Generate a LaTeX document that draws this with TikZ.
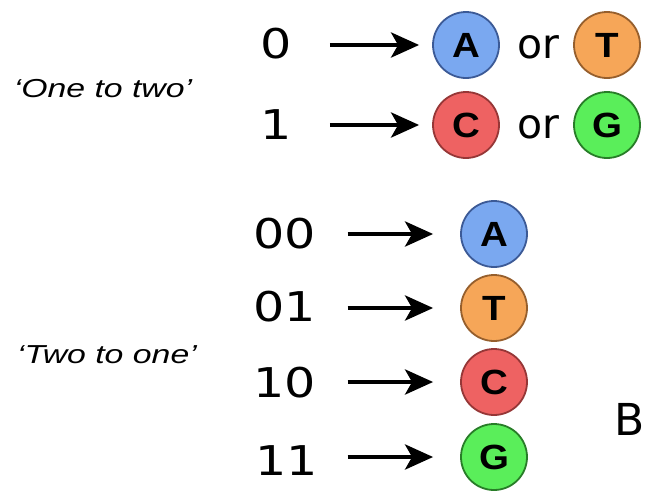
\documentclass[tikz,border=0pt]{standalone}
\usepackage{fontspec}
\usepackage{graphicx}
\setmainfont{Liberation Sans}
\newfontfamily\digitfont{DejaVu Sans}
\usetikzlibrary{arrows.meta}
\definecolor{blueF}{RGB}{122,168,240}
\definecolor{blueD}{RGB}{60,90,150}
\definecolor{orangeF}{RGB}{246,166,88}
\definecolor{orangeD}{RGB}{150,95,45}
\definecolor{redF}{RGB}{238,98,98}
\definecolor{redD}{RGB}{150,55,55}
\definecolor{greenF}{RGB}{90,238,90}
\definecolor{greenD}{RGB}{40,125,40}
\newcommand{\widetext}[2]{\scalebox{#1}[1]{#2}}
\tikzset{
  digit/.style={inner sep=0pt, anchor=base, font=\digitfont\fontsize{41}{48}\selectfont},
  ortext/.style={inner sep=0pt, anchor=base, font=\digitfont\fontsize{41}{48}\selectfont},
  label/.style={inner sep=0pt, anchor=base, font=\fontsize{26}{30}\selectfont\itshape},
  base/.style={circle, inner sep=0pt, minimum size=66pt, line width=1.8pt,
    font=\fontsize{35}{38}\selectfont\bfseries},
  baseA/.style={base, draw=blueD, fill=blueF},
  baseT/.style={base, draw=orangeD, fill=orangeF},
  baseC/.style={base, draw=redD, fill=redF},
  baseG/.style={base, draw=greenD, fill=greenF},
  arr/.style={line width=4.5pt, -{Stealth[length=28pt,width=25pt,inset=7pt]}},
}
\begin{document}
\begin{tikzpicture}[x=1pt,y=-1pt]
\useasboundingbox (0,0) rectangle (645,491);
% labels
\node[label] (l1) at (103,97) {\widetext{1.3}{`One to two'}};
\node[label] (l2) at (107,363) {\widetext{1.3}{`Two to one'}};
% top block
\node[digit] (d0) at (276,58) {\widetext{1.2}{0}};
\node[digit] (d1) at (276,139) {\widetext{1.2}{1}};
\node[baseA] (A1) at (466,45) {\widetext{1.1}{A}};
\node[baseT] (T1) at (607,45) {\widetext{1.1}{T}};
\node[baseC] (C1) at (466,125) {\widetext{1.1}{C}};
\node[baseG] (G1) at (607,125) {\widetext{1.1}{G}};
\node[ortext] (or1) at (538,58) {or};
\node[ortext] (or2) at (538,138) {or};
\draw[arr, shorten <=38pt, shorten >=13pt] (d0.east |- A1.center) -- (A1);
\draw[arr, shorten <=38pt, shorten >=13pt] (d1.east |- C1.center) -- (C1);
% bottom block
\node[digit] (d00) at (285,248) {\widetext{1.2}{00}};
\node[digit] (d01) at (285,321) {\widetext{1.2}{01}};
\node[digit] (d10) at (285,397) {\widetext{1.2}{10}};
\node[digit] (d11) at (287,475) {\widetext{1.2}{11}};
\node[baseA] (A2) at (494,234) {\widetext{1.1}{A}};
\node[baseT] (T2) at (494,308) {\widetext{1.1}{T}};
\node[baseC] (C2) at (494,382) {\widetext{1.1}{C}};
\node[baseG] (G2) at (494,457) {\widetext{1.1}{G}};
\draw[arr, shorten <=31pt, shorten >=27pt] (d00.east |- A2.center) -- (A2);
\draw[arr, shorten <=31pt, shorten >=27pt] (d01.east |- T2.center) -- (T2);
\draw[arr, shorten <=31pt, shorten >=27pt] (d10.east |- C2.center) -- (C2);
\draw[arr, shorten <=29pt, shorten >=27pt] (d11.east |- G2.center) -- (G2);
% panel letter
\node[digit, font=\digitfont\fontsize{44}{48}\selectfont] (B) at (630,435) {B};
\end{tikzpicture}
\end{document}
